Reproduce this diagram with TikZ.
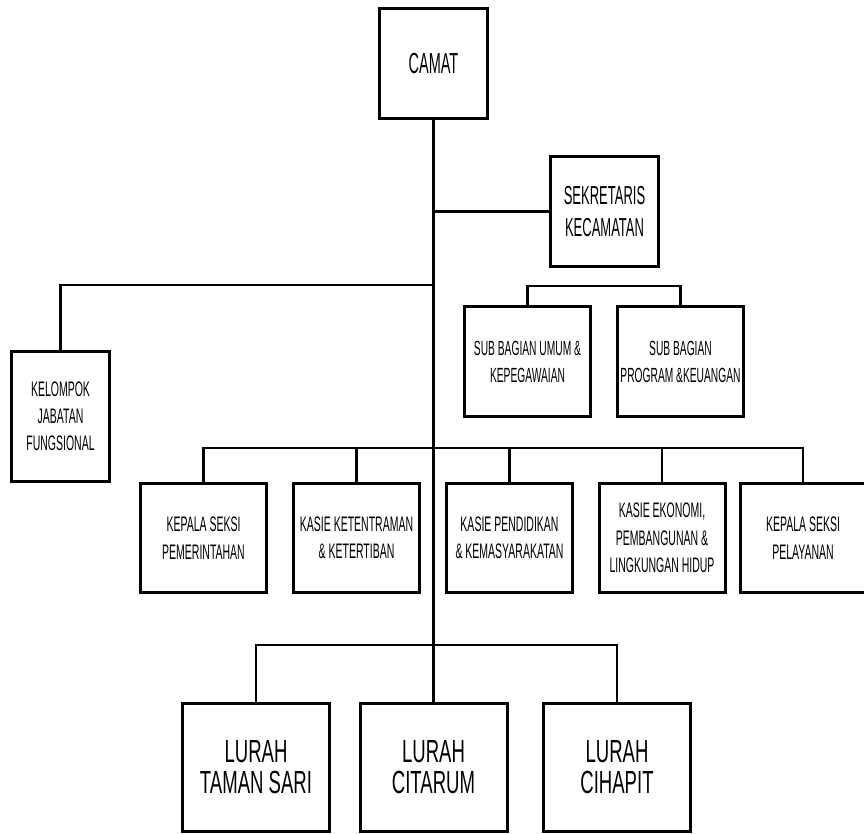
\documentclass[tikz,border=0pt]{standalone}
\usepackage{fontspec}
\setmainfont{Liberation Sans}[FakeStretch=0.5]
\newfontfamily\lurahfont{Liberation Sans}[FakeStretch=0.58]
\usepackage{tikz}

\tikzset{
	unitbox/.style={draw,line width=3pt,inner sep=0pt,align=center},
	orgline/.style={line width=2.7pt},
}

\begin{document}
\begin{tikzpicture}[x=1pt,y=-1pt]
\useasboundingbox (0,0) rectangle (864,834);

\begin{scope}[every node/.style={unitbox}]
	%Level 0
	\node (camat) at (433.5, 63.5) [minimum width=108, minimum height=110, font=\fontsize{29}{32}\selectfont] {CAMAT};
	
	%Level 1
	\node (sekretaris) at (604.5, 211.5) [minimum width=108, minimum height=110, font=\fontsize{26}{32}\selectfont] {SEKRETARIS\\KECAMATAN};
	
	\node (kelompok) at (60.5, 416.5) [minimum width=98, minimum height=130, font=\fontsize{21}{27}\selectfont] {KELOMPOK\\JABATAN\\FUNGSIONAL};
	
	%Level 2
	\node (sub_umum) at (527.5, 361.5) [minimum width=126, minimum height=110, font=\fontsize{20.5}{27}\selectfont] {SUB BAGIAN UMUM \&\\KEPEGAWAIAN};
	\node (sub_program) at (680.5, 361.5) [minimum width=126, minimum height=110, font=\fontsize{20.5}{27}\selectfont] {SUB BAGIAN\\PROGRAM \&KEUANGAN};
\end{scope}

\begin{scope}[every node/.style={unitbox,minimum width=126,minimum height=109,font=\fontsize{21}{27.5}\selectfont}]
	%Level 3
	\node (kasie_1) at (203.5, 538) {KEPALA SEKSI\\PEMERINTAHAN};
	\node (kasie_2) at (356.5, 538) {KASIE KETENTRAMAN\\\& KETERTIBAN};
	\node (kasie_3) at (509.5, 538) {KASIE PENDIDIKAN\\\& KEMASYARAKATAN};
	\node (kasie_4) at (662, 538) {KASIE EKONOMI,\\PEMBANGUNAN \&\\LINGKUNGAN HIDUP};
	\node (kasie_5) at (803, 538) {KEPALA SEKSI\\PELAYANAN};
\end{scope}

\begin{scope}[every node/.style={unitbox,minimum width=147,minimum height=128,font=\lurahfont\fontsize{32}{31}\selectfont}]
	%Level 4
	\node (lurah_1) at (256, 767.5) {LURAH\\TAMAN SARI};
	\node (lurah_2) at (433.5, 767.5) {LURAH\\CITARUM};
	\node (lurah_3) at (617, 767.5) {LURAH\\CIHAPIT};
\end{scope}

\begin{scope}[orgline]
	%Junctions
	\coordinate (j_kelompok) at (433.5, 285);
	\coordinate (j_sub) at (527.5, 286);
	\coordinate (j_kasie) at (433.5, 448);
	\coordinate (j_lurah) at (433.5, 645);
	
	%Level 0 to 4
	\draw (camat.south) -- (lurah_2.north);
	
	%Level 1
	\draw (sekretaris.west) -- (sekretaris.west -| camat.south);
	\draw (kelompok.north) |- (j_kelompok);
	
	%Level 2
	\draw (sub_umum.north) -- (j_sub) -| (sub_program.north);
	
	%Level 3
	\draw (kasie_1.north) |- (j_kasie) -| (kasie_5.north);
	\draw (kasie_2.north) -- (kasie_2.north |- j_kasie);
	\draw (kasie_3.north) -- (kasie_3.north |- j_kasie);
	\draw (kasie_4.north) -- (kasie_4.north |- j_kasie);
	
	%Level 4
	\draw (lurah_1.north) |- (j_lurah) -| (lurah_3.north);
\end{scope}
\end{tikzpicture}
\end{document}
